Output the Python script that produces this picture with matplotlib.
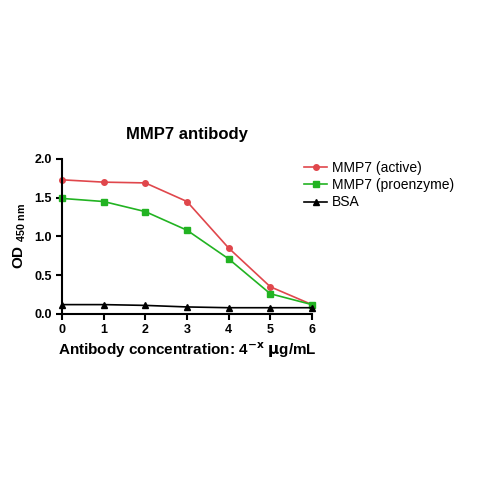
import matplotlib
matplotlib.use("Agg")
import matplotlib.pyplot as plt

x = [0, 1, 2, 3, 4, 5, 6]
active = [1.73, 1.70, 1.69, 1.45, 0.85, 0.35, 0.12]
proenzyme = [1.49, 1.45, 1.32, 1.08, 0.71, 0.26, 0.12]
bsa = [0.12, 0.12, 0.11, 0.09, 0.08, 0.08, 0.08]

plt.rcParams['font.family'] = ['Liberation Sans', 'DejaVu Sans']
fig = plt.figure(figsize=(4.8, 4.8), dpi=100)
ax = fig.add_axes([0.129, 0.346, 0.521, 0.323])

ax.plot(x, active, color="#e0474c", marker="o", markersize=4, lw=1.2, label="MMP7 (active)", clip_on=False)
ax.plot(x, proenzyme, color="#22b322", marker="s", markersize=5, lw=1.2, label="MMP7 (proenzyme)", clip_on=False)
ax.plot(x, bsa, color="black", marker="^", markersize=5, lw=1.2, label="BSA", clip_on=False)

ax.set_xlim(0, 6)
ax.set_ylim(0, 2.0)
ax.set_xticks(x)
ax.set_yticks([0, 0.5, 1.0, 1.5, 2.0])
ax.set_yticklabels(["0.0", "0.5", "1.0", "1.5", "2.0"])
for s in ["top", "right"]:
    ax.spines[s].set_visible(False)
for s in ["left", "bottom"]:
    ax.spines[s].set_linewidth(1.5)
ax.tick_params(width=1.5, length=4, labelsize=9)
for t in ax.get_xticklabels() + ax.get_yticklabels():
    t.set_fontweight("bold")

ax.set_title("MMP7 antibody", fontsize=12, fontweight="bold", pad=14)
ax.set_xlabel(r"Antibody concentration: 4$^{\mathbf{-x}}$ $\mathbf{\mu}$g/mL", fontsize=11, fontweight="bold", labelpad=3)
ax.set_ylabel(r"OD $_{\mathregular{450\ nm}}$", fontsize=11, fontweight="bold")
ax.legend(loc="upper left", bbox_to_anchor=(0.92, 1.07), frameon=False, fontsize=10,
          handlelength=1.6, handletextpad=0.4, labelspacing=0.25)

fig.savefig("out.png", dpi=100)
